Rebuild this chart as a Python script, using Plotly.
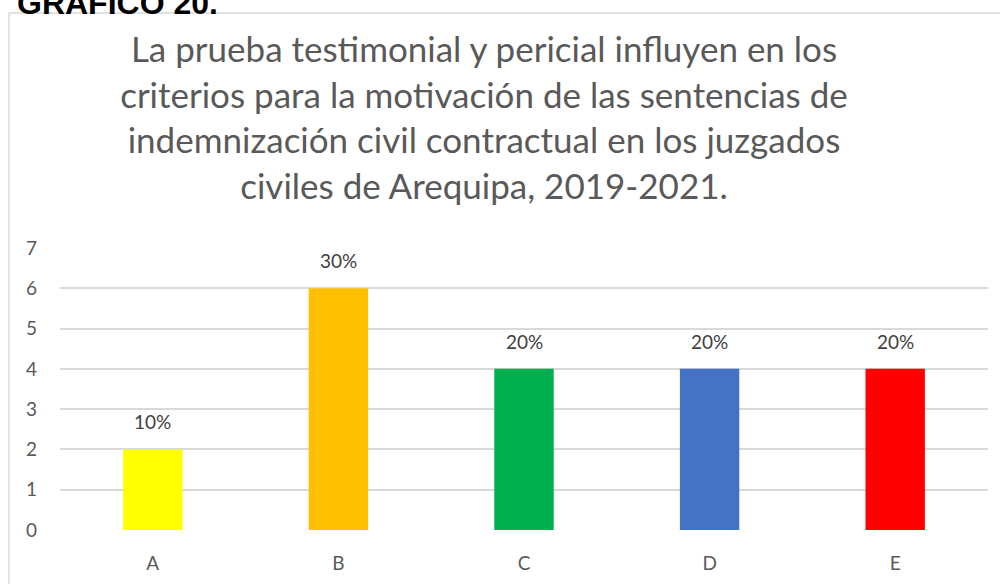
import plotly.graph_objects as go

categories = ["A", "B", "C", "D", "E"]
values = [2, 6, 4, 4, 4]
labels = ["10%", "30%", "20%", "20%", "20%"]
colors = ["#FFFF00", "#FFC000", "#00B050", "#4472C4", "#FF0000"]
y_ticks = [0, 1, 2, 3, 4, 5, 6, 7]
title_lines = [
    "La prueba testimonial y pericial influyen en los",
    "criterios para la motivación de las sentencias de",
    "indemnización civil contractual en los juzgados",
    "civiles de Arequipa, 2019-2021.",
]

FONT = "Lato"

fig = go.Figure()
fig.add_trace(go.Bar(
    x=categories, y=values, marker=dict(color=colors, line=dict(width=0)),
    width=0.32, hoverinfo="x+y",
))

for c, v, t in zip(categories, values, labels):
    fig.add_annotation(
        x=c, y=v, text=t, xref="x", yref="y", showarrow=False,
        yanchor="bottom", yshift=14,
        font=dict(family=FONT, size=19, color="#404040"),
    )

W, H = 1000, 584
ml, mr, mt, mb = 60, 12, 248, 54
pw = W - ml - mr
ph = H - mt - mb

def px_x(p):
    return (p - ml) / pw

def px_y(p):
    return (H - mb - p) / ph

fig.update_layout(
    width=W, height=H,
    margin=dict(l=ml, r=mr, t=mt, b=mb, autoexpand=False),
    paper_bgcolor="white", plot_bgcolor="white",
    showlegend=False,
    title=dict(
        text="<br>".join(title_lines),
        x=0.484, xanchor="center", xref="container",
        y=1 - 62 / H, yanchor="top", yref="container",
        font=dict(family=FONT, size=35, color="#595959"),
    ),
    xaxis=dict(
        showgrid=False, showline=False, zeroline=False, automargin=False,
        tickfont=dict(family=FONT, size=19, color="#595959"),
        ticks="", ticklabelstandoff=20,
    ),
    yaxis=dict(
        range=[0, 7], tickvals=y_ticks, showgrid=True, gridcolor="#D9D9D9", gridwidth=1.5,
        zeroline=False, showline=False, ticks="", automargin=False,
        tickfont=dict(family=FONT, size=19, color="#595959"),
        ticklabelstandoff=22,
    ),
)

fig.add_shape(
    type="rect", xref="paper", yref="paper",
    x0=px_x(9), x1=px_x(1010), y0=px_y(600), y1=px_y(13),
    line=dict(color="#D9D9D9", width=1.5), fillcolor="rgba(0,0,0,0)", layer="below",
)

fig.add_annotation(
    text="<b>GRÁFICO 20.</b>", xref="paper", yref="paper",
    x=px_x(15), y=px_y(23), xanchor="left", yanchor="bottom",
    showarrow=False, font=dict(family="Liberation Sans", size=32, color="black"),
)

fig.write_html(
    "out.html",
    config={"displayModeBar": False},
    post_script="document.body.style.margin='0px';",
)
